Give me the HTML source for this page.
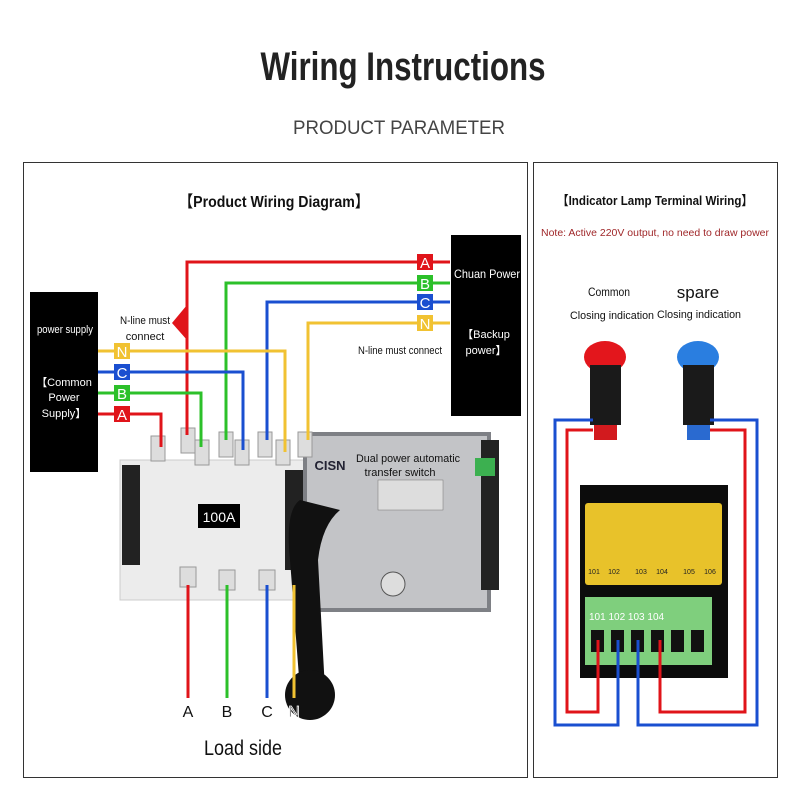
<!DOCTYPE html>
<html><head><meta charset="utf-8"><style>
html,body{margin:0;padding:0;background:#fff;}
svg{display:block;font-family:"Liberation Sans","Noto Sans CJK SC",sans-serif;}
</style></head><body>
<svg width="800" height="800" viewBox="0 0 800 800" xmlns="http://www.w3.org/2000/svg">
<rect width="800" height="800" fill="#fff"/>
<text x="403" y="80" text-anchor="middle" font-size="40" font-weight="bold" fill="#222" textLength="285" lengthAdjust="spacingAndGlyphs">Wiring Instructions</text>
<text x="399" y="134" text-anchor="middle" font-size="19" fill="#444" textLength="212" lengthAdjust="spacingAndGlyphs">PRODUCT PARAMETER</text>
<rect x="23.5" y="162.5" width="504" height="615" fill="none" stroke="#333" stroke-width="1"/>
<rect x="533.5" y="162.5" width="244" height="615" fill="none" stroke="#333" stroke-width="1"/>

<text x="274" y="207" text-anchor="middle" font-size="16" font-weight="bold" fill="#111" textLength="190" lengthAdjust="spacingAndGlyphs">【Product Wiring Diagram】</text>

<rect x="30" y="292" width="68" height="180" fill="#000"/>
<text x="65" y="333" text-anchor="middle" font-size="11" fill="#fff" textLength="56" lengthAdjust="spacingAndGlyphs">power supply</text>
<text x="64" y="386" text-anchor="middle" font-size="11" fill="#fff">【Common</text>
<text x="64" y="401" text-anchor="middle" font-size="11" fill="#fff">Power</text>
<text x="64" y="417" text-anchor="middle" font-size="11" fill="#fff">Supply】</text>
<rect x="451" y="235" width="70" height="181" fill="#000"/>
<text x="487" y="278" text-anchor="middle" font-size="12" fill="#fff" textLength="66" lengthAdjust="spacingAndGlyphs">Chuan Power</text>
<text x="486" y="338" text-anchor="middle" font-size="11" fill="#fff">【Backup</text>
<text x="486" y="354" text-anchor="middle" font-size="11" fill="#fff">power】</text>

<rect x="120" y="460" width="185" height="140" fill="#ececec" stroke="#ccc"/>
<rect x="122" y="465" width="18" height="100" fill="#222"/>
<rect x="285" y="470" width="18" height="100" fill="#222"/>
<rect x="198" y="504" width="42" height="24" fill="#000"/>
<text x="219" y="522" text-anchor="middle" font-size="14" fill="#fff">100A</text>
<rect x="303" y="432" width="188" height="180" fill="#7e8085"/>
<rect x="307" y="436" width="180" height="172" fill="#c3c4c7"/>
<rect x="481" y="440" width="18" height="150" fill="#222"/>
<rect x="475" y="458" width="20" height="18" fill="#3cb050"/>
<text x="330" y="470" text-anchor="middle" font-size="13" font-weight="bold" fill="#223">CISN</text>
<text x="408" y="462" text-anchor="middle" font-size="11" fill="#111" textLength="104" lengthAdjust="spacingAndGlyphs">Dual power automatic</text>
<text x="400" y="476" text-anchor="middle" font-size="11" fill="#111">transfer switch</text>
<rect x="378" y="480" width="65" height="30" fill="#ddd" stroke="#777" stroke-width="0.5"/>
<circle cx="393" cy="584" r="12" fill="#ddd" stroke="#555"/>
<g fill="#ddd" stroke="#999">
<rect x="151" y="436" width="14" height="25"/><rect x="181" y="428" width="14" height="25"/><rect x="195" y="440" width="14" height="25"/>
<rect x="219" y="432" width="14" height="25"/><rect x="235" y="440" width="14" height="25"/><rect x="258" y="432" width="14" height="25"/>
<rect x="276" y="440" width="14" height="25"/><rect x="298" y="432" width="14" height="25"/>
<rect x="180" y="567" width="16" height="20"/><rect x="219" y="570" width="16" height="20"/><rect x="259" y="570" width="16" height="20"/>
</g>
<path d="M300 500 Q285 510 290 560 L300 690 L325 690 L318 560 Q322 525 340 510 Z" fill="#111"/>
<circle cx="310" cy="695" r="25" fill="#111"/>

<g fill="none" stroke-width="3">
<polyline points="450,262 187,262 187,435" stroke="#e0141a"/>
<polyline points="450,283 226,283 226,440" stroke="#2cc02a"/>
<polyline points="450,302 267,302 267,440" stroke="#1a4fd0"/>
<polyline points="450,323 308,323 308,440" stroke="#f1c232"/>
<polyline points="98,351 285,351 285,452" stroke="#f1c232"/>
<polyline points="98,372 243,372 243,450" stroke="#1a4fd0"/>
<polyline points="98,393 201,393 201,447" stroke="#2cc02a"/>
<polyline points="98,414 161,414 161,447" stroke="#e0141a"/>
<line x1="188" y1="585" x2="188" y2="698" stroke="#e0141a"/>
<line x1="227" y1="585" x2="227" y2="698" stroke="#2cc02a"/>
<line x1="267" y1="585" x2="267" y2="698" stroke="#1a4fd0"/>
<line x1="294" y1="585" x2="294" y2="698" stroke="#f1c232"/>
</g>
<path d="M172 323 L187 305 L187 340 Z" fill="#e0141a"/>
<g font-size="15" fill="#fff" text-anchor="middle">
<rect x="417" y="254" width="16" height="16" fill="#e0141a"/><text x="425" y="268">A</text>
<rect x="417" y="275" width="16" height="16" fill="#2cc02a"/><text x="425" y="289">B</text>
<rect x="417" y="294" width="16" height="16" fill="#1a4fd0"/><text x="425" y="308">C</text>
<rect x="417" y="315" width="16" height="16" fill="#f1c232"/><text x="425" y="329">N</text>
<rect x="114" y="343" width="16" height="16" fill="#f1c232"/><text x="122" y="357">N</text>
<rect x="114" y="364" width="16" height="16" fill="#1a4fd0"/><text x="122" y="378">C</text>
<rect x="114" y="385" width="16" height="16" fill="#2cc02a"/><text x="122" y="399">B</text>
<rect x="114" y="406" width="16" height="16" fill="#e0141a"/><text x="122" y="420">A</text>
</g>
<text x="145" y="324" text-anchor="middle" font-size="11" fill="#111" textLength="50" lengthAdjust="spacingAndGlyphs">N-line must</text>
<text x="145" y="340" text-anchor="middle" font-size="11" fill="#111">connect</text>
<text x="400" y="354" text-anchor="middle" font-size="11" fill="#111" textLength="84" lengthAdjust="spacingAndGlyphs">N-line must connect</text>
<g font-size="16" fill="#111" text-anchor="middle">
<text x="188" y="717">A</text><text x="227" y="717">B</text><text x="267" y="717">C</text><text x="294" y="717" stroke="#fff" stroke-width="0.8">N</text>
</g>
<text x="243" y="755" text-anchor="middle" font-size="21" fill="#111" textLength="78" lengthAdjust="spacingAndGlyphs">Load side</text>

<text x="655" y="205" text-anchor="middle" font-size="13" font-weight="bold" fill="#111" textLength="196" lengthAdjust="spacingAndGlyphs">【Indicator Lamp Terminal Wiring】</text>
<text x="655" y="236" text-anchor="middle" font-size="10.5" fill="#a0282a" textLength="228" lengthAdjust="spacingAndGlyphs">Note: Active 220V output, no need to draw power</text>
<text x="609" y="296" text-anchor="middle" font-size="12" fill="#111" textLength="42" lengthAdjust="spacingAndGlyphs">Common</text>
<text x="698" y="298" text-anchor="middle" font-size="17" fill="#111">spare</text>
<text x="612" y="319" text-anchor="middle" font-size="11" fill="#111" textLength="84" lengthAdjust="spacingAndGlyphs">Closing indication</text>
<text x="699" y="318" text-anchor="middle" font-size="11" fill="#111" textLength="84" lengthAdjust="spacingAndGlyphs">Closing indication</text>
<ellipse cx="605" cy="357" rx="21" ry="16" fill="#e3161c"/>
<rect x="590" y="365" width="31" height="60" fill="#1a1a1a"/>
<rect x="594" y="425" width="23" height="15" fill="#d21a1e"/>
<ellipse cx="698" cy="357" rx="21" ry="16" fill="#2a7ee0"/>
<rect x="683" y="365" width="31" height="60" fill="#1a1a1a"/>
<rect x="687" y="425" width="23" height="15" fill="#2a6ad0"/>
<rect x="580" y="485" width="148" height="193" fill="#0c0c0c"/>
<rect x="585" y="503" width="137" height="82" rx="3" fill="#e8c22a"/>
<g font-size="7" fill="#222" text-anchor="middle"><text x="594" y="574">101</text><text x="614" y="574">102</text><text x="641" y="574">103</text><text x="662" y="574">104</text><text x="689" y="574">105</text><text x="710" y="574">106</text></g>
<rect x="585" y="597" width="127" height="68" fill="#7fcf7d"/>
<text x="589" y="620" font-size="10" fill="#fff">101 102 103 104</text>
<g fill="#111"><rect x="591" y="630" width="13" height="22"/><rect x="611" y="630" width="13" height="22"/><rect x="631" y="630" width="13" height="22"/><rect x="651" y="630" width="13" height="22"/><rect x="671" y="630" width="13" height="22"/><rect x="691" y="630" width="13" height="22"/></g>
<g fill="none" stroke-width="3">
<polyline points="593,420 555,420 555,725 618,725 618,640" stroke="#1a4fd0"/>
<polyline points="593,430 567,430 567,712 598,712 598,640" stroke="#e0141a"/>
<polyline points="710,420 757,420 757,725 638,725 638,640" stroke="#1a4fd0"/>
<polyline points="710,430 745,430 745,712 660,712 660,640" stroke="#e0141a"/>
</g>
</svg>
</body></html>
